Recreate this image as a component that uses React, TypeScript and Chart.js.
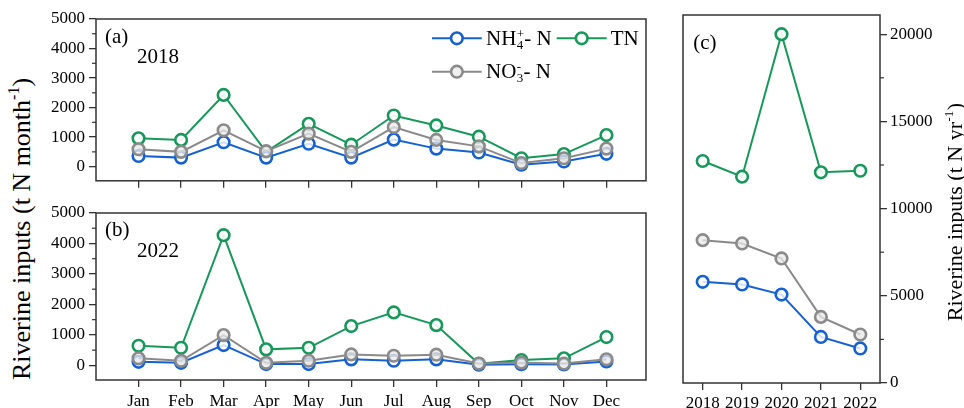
import React, { useEffect, useRef } from "react";
import { Chart, registerables } from "chart.js";

Chart.register(...registerables);

// ---------------- data ----------------
const MONTHS = ["Jan", "Feb", "Mar", "Apr", "May", "Jun", "Jul", "Aug", "Sep", "Oct", "Nov", "Dec"];

const NH4_2018 = [360, 305, 827, 305, 774, 305, 915, 610, 480, 65, 175, 435];
const NO3_2018 = [588, 500, 1232, 523, 1121, 500, 1340, 905, 686, 120, 284, 610];
const TN_2018 = [957, 905, 2428, 500, 1448, 742, 1732, 1395, 1013, 284, 425, 1068];

const NH4_2022 = [118, 85, 666, 43, 43, 197, 151, 197, 20, 40, 30, 130];
const NO3_2022 = [230, 151, 993, 85, 151, 360, 315, 350, 60, 90, 60, 200];
const TN_2022 = [643, 577, 4272, 525, 577, 1289, 1738, 1321, 50, 174, 230, 930];

const YEARS = [2018, 2019, 2020, 2021, 2022];
const NH4_ANNUAL = [5800, 5650, 5070, 2640, 1980];
const NO3_ANNUAL = [8190, 8000, 7140, 3790, 2780];
const TN_ANNUAL = [12730, 11830, 20000, 12080, 12170];

const MONTHLY_TICKS = [0, 1000, 2000, 3000, 4000, 5000];
const MONTHLY_MINOR_TICKS = [500, 1500, 2500, 3500, 4500];
const ANNUAL_TICKS = [0, 5000, 10000, 15000, 20000];
const ANNUAL_MINOR_TICKS = [2500, 7500, 12500, 17500];

// ---------------- style ----------------
const SERIF = "'Liberation Serif', 'DejaVu Serif', serif";
const font = (s: number) => `${s}px ${SERIF}`;
const BLUE = "#1661D2";
const GREEN = "#16985A";
const GREY = "#8A8A8A";
const FRAME = "#333333";
const BLUE_FILL = "rgba(255,255,255,0.8)";
const GREEN_FILL = "rgba(255,255,255,0.9)";
const GREY_FILL = "rgba(232,232,232,0.75)";

Chart.defaults.font.family = SERIF;

function afterFonts(chart: any) {
  try {
    const fs: any = (document as any).fonts;
    if (fs && fs.load) {
      Promise.all([fs.load(font(17)), fs.load(font(21))]).then(() => {
        try {
          chart.update("none");
        } catch (e) {}
      });
    }
  } catch (e) {}
}

function series(label: string, values: number[], xs: number[], color: string, fill: string, order: number) {
  return {
    label,
    data: values.map((v, i) => ({ x: xs[i], y: v })),
    borderColor: color,
    backgroundColor: fill,
    pointBorderColor: color,
    pointBackgroundColor: fill,
    borderWidth: 2,
    pointRadius: 5.8,
    pointHoverRadius: 5.8,
    pointBorderWidth: 2.6,
    tension: 0,
    order,
  };
}

const gridOpts = {
  display: true,
  drawOnChartArea: false,
  drawTicks: true,
  tickLength: 7,
  color: FRAME,
  lineWidth: 1.3,
};

function decorPlugin(minor: number[], side: "left" | "right", drawTexts: (ctx: CanvasRenderingContext2D) => void) {
  return {
    id: "decor",
    beforeDatasetsDraw(chart: any) {
      const { ctx, chartArea: a } = chart;
      ctx.save();
      ctx.strokeStyle = FRAME;
      ctx.lineWidth = 1.5;
      ctx.strokeRect(a.left, a.top, a.right - a.left, a.bottom - a.top);
      ctx.lineWidth = 1.2;
      const ys = chart.scales.y;
      for (const v of minor) {
        const p = ys.getPixelForValue(v);
        ctx.beginPath();
        if (side === "left") {
          ctx.moveTo(a.left - 4, p);
          ctx.lineTo(a.left, p);
        } else {
          ctx.moveTo(a.right, p);
          ctx.lineTo(a.right + 4, p);
        }
        ctx.stroke();
      }
      ctx.restore();
    },
    afterDraw(chart: any) {
      const ctx = chart.ctx;
      ctx.save();
      ctx.fillStyle = "#000";
      ctx.textBaseline = "alphabetic";
      ctx.textAlign = "left";
      drawTexts(ctx);
      ctx.restore();
    },
  };
}

function legendMarker(ctx: CanvasRenderingContext2D, x0: number, x1: number, y: number, color: string, fill: string) {
  ctx.strokeStyle = color;
  ctx.lineWidth = 2;
  ctx.beginPath();
  ctx.moveTo(x0, y);
  ctx.lineTo(x1, y);
  ctx.stroke();
  ctx.beginPath();
  ctx.arc((x0 + x1) / 2, y, 5.8, 0, Math.PI * 2);
  ctx.fillStyle = "#fff";
  ctx.fill();
  ctx.fillStyle = fill;
  ctx.fill();
  ctx.lineWidth = 2.6;
  ctx.stroke();
}

function chemText(ctx: CanvasRenderingContext2D, x: number, base: number, main: string, sup: string, sub: string, tail: string) {
  ctx.fillStyle = "#000";
  ctx.font = font(21);
  ctx.fillText(main, x, base);
  let cx = x + ctx.measureText(main).width;
  ctx.font = font(13);
  ctx.fillText(sup, cx + 0.3, base - 7);
  ctx.fillText(sub, cx + 0.3, base + 4);
  cx += Math.max(ctx.measureText(sup).width, ctx.measureText(sub).width) + 0.6;
  ctx.font = font(21);
  ctx.fillText(tail, cx, base);
}

type MonthlyProps = {
  top: number;
  height: number;
  plotTop: number;
  plotBottom: number;
  showLabels: boolean;
  tag: string;
  year: string;
  tagBase: number;
  yearBase: number;
  nh4: number[];
  no3: number[];
  tn: number[];
  legend: boolean;
};

function MonthlyPanel(p: MonthlyProps) {
  const ref = useRef<HTMLCanvasElement>(null);
  useEffect(() => {
    const xs = MONTHS.map((_, i) => i + 1);
    const chart = new Chart(ref.current as HTMLCanvasElement, {
      type: "line",
      data: {
        datasets: [
          series("NO3- N", p.no3, xs, GREY, GREY_FILL, 0),
          series("NH4+- N", p.nh4, xs, BLUE, BLUE_FILL, 1),
          series("TN", p.tn, xs, GREEN, GREEN_FILL, 2),
        ] as any,
      },
      options: {
        responsive: false,
        maintainAspectRatio: false,
        animation: false,
        events: [],
        layout: { padding: { top: p.plotTop, right: 14, left: 0, bottom: 0 } },
        plugins: { legend: { display: false }, tooltip: { enabled: false } },
        scales: {
          x: {
            type: "linear",
            min: 0,
            max: 12.93,
            afterBuildTicks: (s: any) => {
              s.ticks = xs.map((v) => ({ value: v }));
            },
            afterFit: (s: any) => {
              s.height = p.height - p.plotBottom;
            },
            grid: gridOpts as any,
            border: { display: false },
            ticks: {
              display: p.showLabels,
              autoSkip: false,
              maxRotation: 0,
              minRotation: 0,
              padding: 4,
              color: "#000",
              font: { family: SERIF, size: 17 },
              callback: (v: any) => MONTHS[Math.round(v) - 1] ?? "",
            },
          },
          y: {
            type: "linear",
            min: -480,
            max: 5000,
            afterBuildTicks: (s: any) => {
              s.ticks = MONTHLY_TICKS.map((v) => ({ value: v }));
            },
            afterFit: (s: any) => {
              s.width = 60;
            },
            grid: gridOpts as any,
            border: { display: false },
            ticks: {
              padding: 4,
              color: "#000",
              font: { family: SERIF, size: 17 },
              callback: (v: any) => String(v),
            },
          },
        },
      },
      plugins: [
        decorPlugin(MONTHLY_MINOR_TICKS, "left", (ctx) => {
          ctx.font = font(21);
          ctx.fillText(p.tag, 69, p.tagBase);
          ctx.fillText(p.year, 101, p.yearBase);
          if (p.legend) {
            legendMarker(ctx, 396, 445.7, 38.3, BLUE, BLUE_FILL);
            chemText(ctx, 450, 45, "NH", "+", "4", "- N");
            legendMarker(ctx, 520.7, 570.7, 38.3, GREEN, GREEN_FILL);
            ctx.fillStyle = "#000";
            ctx.font = font(21);
            ctx.fillText("TN", 574.7, 45);
            legendMarker(ctx, 396, 445.7, 71.7, GREY, GREY_FILL);
            chemText(ctx, 450, 78.4, "NO", "-", "3", "- N");
          }
        }),
      ],
    });
    afterFonts(chart);
    return () => chart.destroy();
  }, []);
  return (
    <canvas
      ref={ref}
      width={624}
      height={p.height}
      style={{ position: "absolute", left: 36, top: p.top, width: 624, height: p.height }}
    />
  );
}

function AnnualPanel() {
  const ref = useRef<HTMLCanvasElement>(null);
  useEffect(() => {
    const chart = new Chart(ref.current as HTMLCanvasElement, {
      type: "line",
      data: {
        datasets: [
          series("NO3- N", NO3_ANNUAL, YEARS, GREY, GREY_FILL, 0),
          series("NH4+- N", NH4_ANNUAL, YEARS, BLUE, BLUE_FILL, 1),
          series("TN", TN_ANNUAL, YEARS, GREEN, GREEN_FILL, 2),
        ] as any,
      },
      options: {
        responsive: false,
        maintainAspectRatio: false,
        animation: false,
        events: [],
        layout: { padding: { top: 15, right: 0, left: 23, bottom: 0 } },
        plugins: { legend: { display: false }, tooltip: { enabled: false } },
        scales: {
          x: {
            type: "linear",
            min: 2017.5,
            max: 2022.5,
            afterBuildTicks: (s: any) => {
              s.ticks = YEARS.map((v) => ({ value: v }));
            },
            afterFit: (s: any) => {
              s.height = 25;
            },
            grid: gridOpts as any,
            border: { display: false },
            ticks: {
              autoSkip: false,
              maxRotation: 0,
              minRotation: 0,
              padding: 3,
              color: "#000",
              font: { family: SERIF, size: 17 },
              callback: (v: any) => String(v),
            },
          },
          y: {
            type: "linear",
            position: "right",
            min: 0,
            max: 21100,
            afterBuildTicks: (s: any) => {
              s.ticks = ANNUAL_TICKS.map((v) => ({ value: v }));
            },
            afterFit: (s: any) => {
              s.width = 84;
            },
            grid: gridOpts as any,
            border: { display: false },
            ticks: {
              padding: 3,
              color: "#000",
              font: { family: SERIF, size: 17 },
              callback: (v: any) => String(v),
            },
          },
        },
      },
      plugins: [
        decorPlugin(ANNUAL_MINOR_TICKS, "right", (ctx) => {
          ctx.font = font(21);
          ctx.fillText("(c)", 33.3, 49);
          const mainTxt = "Riverine inputs (t N yr";
          ctx.font = font(22);
          const w1 = ctx.measureText(mainTxt).width;
          ctx.font = font(13);
          const w2 = ctx.measureText("-1").width;
          ctx.font = font(22);
          const w3 = ctx.measureText(")").width;
          const total = w1 + w2 + w3 + 1;
          ctx.translate(302, 212);
          ctx.rotate(-Math.PI / 2);
          let x = -total / 2;
          ctx.font = font(22);
          ctx.fillText(mainTxt, x, 0);
          x += w1 + 0.5;
          ctx.font = font(13);
          ctx.fillText("-1", x, -9);
          x += w2 + 0.5;
          ctx.font = font(22);
          ctx.fillText(")", x, 0);
        }),
      ],
    });
    afterFonts(chart);
    return () => chart.destroy();
  }, []);
  return (
    <canvas
      ref={ref}
      width={304}
      height={408}
      style={{ position: "absolute", left: 660, top: 0, width: 304, height: 408 }}
    />
  );
}

export default function App() {
  return (
    <div
      style={{
        position: "fixed",
        left: 0,
        top: 0,
        width: 964,
        height: 408,
        background: "#fff",
        overflow: "hidden",
        fontFamily: SERIF,
      }}
    >
      <div
        style={{
          position: "absolute",
          left: 22 - 200,
          top: 229 - 15,
          width: 400,
          height: 30,
          lineHeight: "30px",
          textAlign: "center",
          whiteSpace: "nowrap",
          transform: "rotate(-90deg)",
          fontFamily: SERIF,
          fontSize: 26,
          color: "#000",
        }}
      >
        Riverine inputs (t N month
        <span style={{ fontSize: 16, position: "relative", top: -11 }}>-1</span>)
      </div>
      <MonthlyPanel
        top={0}
        height={195}
        plotTop={19}
        plotBottom={186}
        showLabels={false}
        tag="(a)"
        year="2018"
        tagBase={42.5}
        yearBase={62.7}
        nh4={NH4_2018}
        no3={NO3_2018}
        tn={TN_2018}
        legend={true}
      />
      <MonthlyPanel
        top={195}
        height={213}
        plotTop={18}
        plotBottom={185}
        showLabels={true}
        tag="(b)"
        year="2022"
        tagBase={41}
        yearBase={62}
        nh4={NH4_2022}
        no3={NO3_2022}
        tn={TN_2022}
        legend={false}
      />
      <AnnualPanel />
    </div>
  );
}
